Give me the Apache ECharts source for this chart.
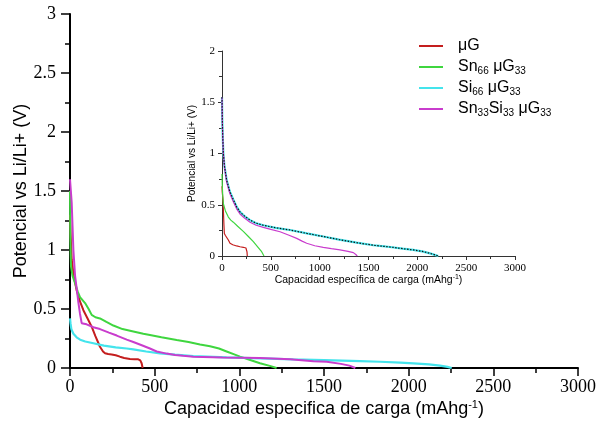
<!DOCTYPE html>
<html>
<head>
<meta charset="utf-8">
<script src="https://cdn.jsdelivr.net/npm/echarts@6/dist/echarts.min.js"></script>
<style>
  html, body { margin: 0; padding: 0; background: #fff; }
  #chart { width: 597px; height: 423px; }
</style>
</head>
<body>
<div id="chart"></div>
<script>
// Series names (legend)
const names = ['μG', 'Sn66 μG33', 'Si66 μG33', 'Sn33Si33 μG33'];

// Main panel: charge curves [capacity mAh/g, potential V]
const muG = [[0,1.3],[4,1.12],[10,0.92],[22,0.78],[39,0.66],[60,0.56],[79,0.49],[100,0.43],[128,0.35],[150,0.27],[177,0.18],[195,0.14],[207,0.125],[225,0.118],[246,0.115],[270,0.108],[295,0.096],[320,0.085],[354,0.076],[380,0.075],[403,0.074],[415,0.065],[423,0.04],[429,0]];
const sn66 = [[0,1.5],[2,1.1],[4,0.95],[6,0.86],[15,0.78],[30,0.72],[45,0.65],[59,0.6],[89,0.55],[110,0.5],[128,0.45],[150,0.43],[177,0.42],[215,0.39],[256,0.36],[310,0.33],[374,0.31],[433,0.29],[472,0.28],[540,0.26],[630,0.237],[700,0.22],[768,0.2],[827,0.185],[880,0.165],[925,0.14],[970,0.115],[1004,0.096],[1060,0.07],[1122,0.04],[1180,0.018],[1220,0]];
const si66 = [[0,0.42],[3,0.38],[8,0.33],[20,0.29],[39,0.26],[60,0.24],[90,0.225],[138,0.21],[200,0.19],[270,0.175],[335,0.165],[374,0.158],[450,0.14],[532,0.124],[620,0.113],[728,0.1],[925,0.09],[1122,0.082],[1319,0.073],[1500,0.066],[1713,0.058],[1831,0.053],[1950,0.046],[2028,0.039],[2120,0.03],[2185,0.02],[2230,0.01],[2254,0]];
const sn33si33 = [[0,1.6],[5,1.5],[10,1.4],[20,1.0],[30,0.78],[39,0.68],[50,0.55],[59,0.46],[69,0.38],[98,0.37],[138,0.345],[177,0.33],[230,0.3],[276,0.275],[335,0.24],[374,0.22],[420,0.195],[472,0.165],[512,0.14],[571,0.122],[620,0.11],[669,0.103],[728,0.096],[900,0.09],[1122,0.085],[1300,0.075],[1437,0.058],[1516,0.052],[1600,0.035],[1650,0.02],[1685,0]];

// Inset panel
const muGIn = [[0,0.68],[3,0.62],[10,0.55],[14,0.45],[20,0.3],[24,0.22],[35,0.2],[48,0.19],[65,0.156],[82,0.124],[110,0.11],[150,0.098],[185,0.09],[218,0.085],[245,0.078],[253,0.072],[256,0.04],[259,0]];
const sn66In = [[0,0.8],[3,0.68],[8,0.58],[14,0.51],[35,0.44],[65,0.38],[90,0.35],[116,0.33],[160,0.29],[218,0.24],[270,0.19],[321,0.14],[365,0.09],[406,0.042],[430,0]];
const si66In = [[0,1.55],[3,1.33],[8,1.15],[14,1.0],[25,0.88],[48,0.74],[80,0.63],[116,0.55],[150,0.48],[184,0.43],[230,0.39],[287,0.35],[350,0.32],[423,0.3],[550,0.275],[696,0.254],[870,0.22],[1037,0.19],[1200,0.16],[1379,0.13],[1550,0.105],[1618,0.098],[1720,0.088],[1850,0.072],[1959,0.059],[2050,0.045],[2130,0.026],[2215,0]];
const sn33si33In = [[0,1.55],[3,1.33],[8,1.15],[14,1.0],[25,0.87],[48,0.72],[80,0.61],[116,0.53],[150,0.46],[184,0.41],[230,0.37],[287,0.33],[350,0.3],[423,0.28],[500,0.26],[594,0.237],[680,0.205],[765,0.172],[820,0.145],[867,0.124],[950,0.1],[1037,0.085],[1120,0.072],[1208,0.059],[1290,0.045],[1345,0.033],[1370,0.015],[1385,0]];

const colors = ['#c41e1e', '#3fd63f', '#44e4ec', '#c93ccd'];
const serif = 'Liberation Serif';
const sans = 'Liberation Sans';
const plain = v => String(v);

// Legend labels with subscripts
const legendRich = {
  'μG': 'μG',
  'Sn66 μG33': 'Sn{s|66} μG{s|33}',
  'Si66 μG33': 'Si{s|66} μG{s|33}',
  'Sn33Si33 μG33': 'Sn{s|33}Si{s|33} μG{s|33}'
};

function axisCommon(o) {
  return Object.assign({
    type: 'value',
    splitLine: { show: false },
    nameLocation: 'middle',
    nameMoveOverlap: false
  }, o);
}

const chart = echarts.init(document.getElementById('chart'), null, { renderer: 'canvas' });
chart.setOption({
  animation: false,
  backgroundColor: '#fff',
  color: colors,
  grid: [
    { left: 70, top: 14, width: 508, height: 354, outerBoundsMode: 'none', containLabel: false },
    { left: 222, top: 51, width: 293, height: 205, outerBoundsMode: 'none', containLabel: false }
  ],
  legend: {
    data: names,
    orient: 'vertical',
    left: 414,
    top: 32,
    icon: 'rect',
    itemWidth: 24,
    itemHeight: 2,
    itemGap: 3,
    formatter: n => legendRich[n],
    textStyle: {
      fontFamily: sans, fontSize: 16, color: '#000', lineHeight: 18,
      padding: [0, 0, 0, 10],
      rich: { s: { fontFamily: sans, fontSize: 10, lineHeight: 10, verticalAlign: 'bottom', color: '#000' } }
    }
  },
  xAxis: [
    axisCommon({
      gridIndex: 0, min: 0, max: 3000, interval: 500,
      name: 'Capacidad especifica de carga (mAhg{sup|-1})',
      nameGap: 31,
      nameTextStyle: {
        fontFamily: sans, fontSize: 18, color: '#000', lineHeight: 20,
        rich: { sup: { fontFamily: sans, fontSize: 11, lineHeight: 11, verticalAlign: 'top', color: '#000' } }
      },
      axisLine: { lineStyle: { color: '#000', width: 2 } },
      axisTick: { length: 8, lineStyle: { color: '#000', width: 1.5 } },
      minorTick: { show: true, splitNumber: 2, length: 5, lineStyle: { color: '#000', width: 1.5 } },
      axisLabel: { fontFamily: serif, fontSize: 18, color: '#000', margin: 10, formatter: plain }
    }),
    axisCommon({
      gridIndex: 1, min: 0, max: 3000, interval: 500,
      name: 'Capacidad específica de carga (mAhg{sup|-1})',
      nameGap: 18,
      nameTextStyle: {
        fontFamily: sans, fontSize: 10.5, color: '#000', lineHeight: 12,
        rich: { sup: { fontFamily: sans, fontSize: 7, lineHeight: 7, verticalAlign: 'top', color: '#000' } }
      },
      axisLine: { lineStyle: { color: '#333', width: 1 } },
      axisTick: { length: 4, lineStyle: { color: '#333', width: 1 } },
      minorTick: { show: true, splitNumber: 2, length: 3, lineStyle: { color: '#333', width: 1 } },
      axisLabel: { fontFamily: serif, fontSize: 11, color: '#000', margin: 7, formatter: plain }
    })
  ],
  yAxis: [
    axisCommon({
      gridIndex: 0, min: 0, max: 3, interval: 0.5,
      name: 'Potencial vs Li/Li+ (V)',
      nameGap: 40,
      nameTextStyle: { fontFamily: sans, fontSize: 18, color: '#000' },
      axisLine: { lineStyle: { color: '#000', width: 2 } },
      axisTick: { length: 9, lineStyle: { color: '#000', width: 1.5 } },
      minorTick: { show: true, splitNumber: 2, length: 5, lineStyle: { color: '#000', width: 1.5 } },
      axisLabel: { fontFamily: serif, fontSize: 18, color: '#000', margin: 14, formatter: plain }
    }),
    axisCommon({
      gridIndex: 1, min: 0, max: 2, interval: 0.5,
      name: 'Potencial vs Li/Li+ (V)',
      nameGap: 25,
      nameTextStyle: { fontFamily: sans, fontSize: 10, color: '#000' },
      axisLine: { lineStyle: { color: '#333', width: 1 } },
      axisTick: { length: 4, lineStyle: { color: '#333', width: 1 } },
      minorTick: { show: true, splitNumber: 2, length: 3, lineStyle: { color: '#333', width: 1 } },
      axisLabel: { fontFamily: serif, fontSize: 11, color: '#000', margin: 7, formatter: plain }
    })
  ],
  series: [
    { name: names[0], type: 'line', xAxisIndex: 0, yAxisIndex: 0, data: muG, showSymbol: false, lineStyle: { width: 2, color: colors[0] } },
    { name: names[1], type: 'line', xAxisIndex: 0, yAxisIndex: 0, data: sn66, showSymbol: false, lineStyle: { width: 2, color: colors[1] } },
    { name: names[2], type: 'line', xAxisIndex: 0, yAxisIndex: 0, data: si66, showSymbol: false, lineStyle: { width: 2.2, color: colors[2] } },
    { name: names[3], type: 'line', xAxisIndex: 0, yAxisIndex: 0, data: sn33si33, showSymbol: false, lineStyle: { width: 2, color: colors[3] } },
    { name: names[0], type: 'line', xAxisIndex: 1, yAxisIndex: 1, data: muGIn, showSymbol: false, lineStyle: { width: 1.2, color: colors[0] } },
    { name: names[1], type: 'line', xAxisIndex: 1, yAxisIndex: 1, data: sn66In, showSymbol: false, lineStyle: { width: 1.2, color: colors[1] } },
    { name: names[2], type: 'line', xAxisIndex: 1, yAxisIndex: 1, data: si66In, showSymbol: false, lineStyle: { width: 2.2, color: colors[2] } },
    { name: names[3], type: 'line', xAxisIndex: 1, yAxisIndex: 1, data: sn33si33In, showSymbol: false, lineStyle: { width: 1.2, color: colors[3] } },
    // dotted black trace over the Si66 curve in the inset
    { name: 'Si66 μG33 punteado', type: 'line', xAxisIndex: 1, yAxisIndex: 1, data: si66In, showSymbol: false, z: 3, lineStyle: { width: 1.2, color: '#111', type: [1.5, 1.5] } }
  ]
});
</script>
</body>
</html>
